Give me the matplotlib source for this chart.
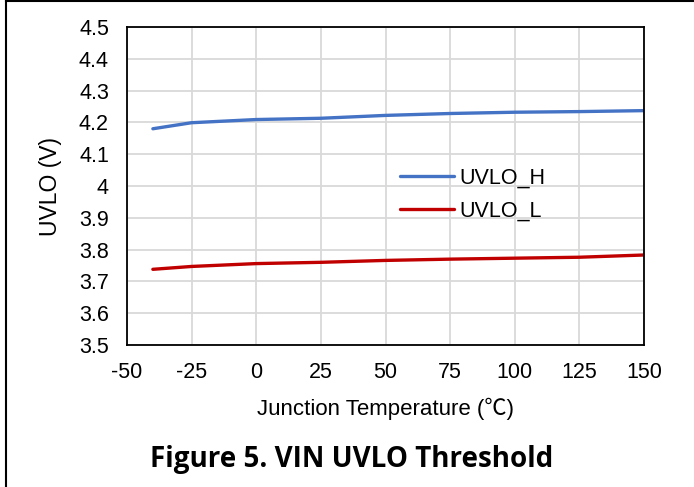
import matplotlib
matplotlib.use("Agg")
import matplotlib.pyplot as plt
from matplotlib.lines import Line2D

temps = [-40, -25, 0, 25, 50, 75, 100, 125, 150]
uvlo_h = [4.180, 4.199, 4.209, 4.213, 4.222, 4.228, 4.232, 4.234, 4.237]
uvlo_l = [3.738, 3.747, 3.756, 3.760, 3.766, 3.770, 3.773, 3.776, 3.783]
x_ticks = [-50, -25, 0, 25, 50, 75, 100, 125, 150]
y_ticks = [3.5, 3.6, 3.7, 3.8, 3.9, 4.0, 4.1, 4.2, 4.3, 4.4, 4.5]
y_labels = ["3.5", "3.6", "3.7", "3.8", "3.9", "4", "4.1", "4.2", "4.3", "4.4", "4.5"]

W, H = 694, 487
fig = plt.figure(figsize=(W / 100, H / 100), dpi=100)
ax = fig.add_axes([127 / W, 1 - 345 / H, (644 - 127) / W, (345 - 27) / H])

fam = ["Liberation Sans", "Noto Sans CJK SC", "DejaVu Sans"]
ax.plot(temps, uvlo_h, color="#4472C4", lw=2.4, label="UVLO_H", solid_capstyle="round")
ax.plot(temps, uvlo_l, color="#C00000", lw=2.4, label="UVLO_L", solid_capstyle="round")

ax.set_xlim(-50, 150)
ax.set_ylim(3.5, 4.5)
ax.set_xticks(x_ticks)
ax.set_xticklabels([str(t) for t in x_ticks], family=fam, fontsize=15.5)
ax.set_yticks(y_ticks)
ax.set_yticklabels(y_labels, family=fam, fontsize=15.5)
ax.tick_params(axis="x", length=0, pad=12)
ax.tick_params(axis="y", length=0, pad=13)
ax.grid(True, color="#d9d9d9", lw=1.3)
ax.set_axisbelow(True)
for s in ax.spines.values():
    s.set_color("black")
    s.set_linewidth(1.3)

ax.set_xlabel("Junction Temperature (℃)", family=fam, fontsize=16, labelpad=11)
ax.set_ylabel("UVLO (V)", family=fam, fontsize=16.5, labelpad=12)

leg = ax.legend(loc="upper left", bbox_to_anchor=((389 - 127) / (644 - 127), (345 - 157) / (345 - 27)),
                frameon=False, borderpad=0, prop={"family": fam, "size": 15.5}, handlelength=2.5,
                handletextpad=0.25, labelspacing=0.55)

fig.text(352 / W, 1 - 460 / H, "Figure 5. VIN UVLO Threshold", ha="center", va="center",
         family=["Open Sans", "DejaVu Sans"], fontweight="bold", fontsize=20)

fig.add_artist(Line2D([5.5 / W, 5.5 / W], [0, 1], transform=fig.transFigure, color="black", lw=1.5))
fig.add_artist(Line2D([5.5 / W, 1], [1 - 0.5 / H, 1 - 0.5 / H], transform=fig.transFigure, color="black", lw=1.5))

fig.savefig("out.png", dpi=100)
